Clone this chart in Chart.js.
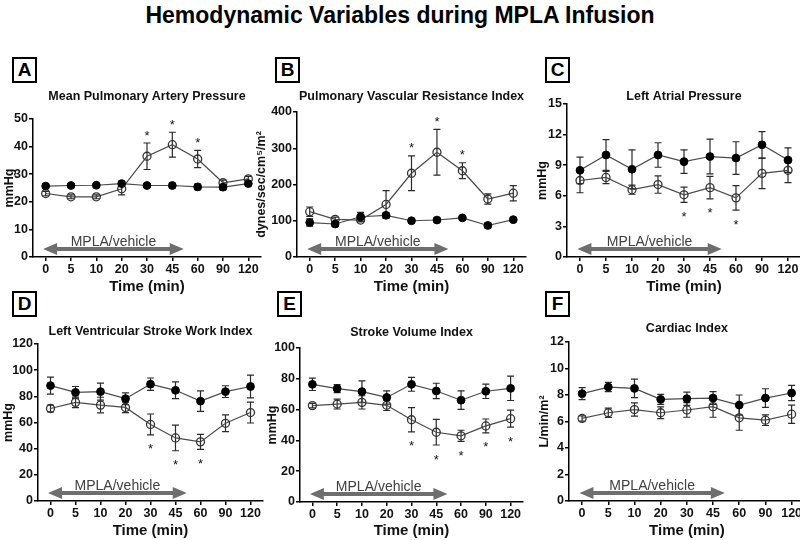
<!DOCTYPE html>
<html>
<head>
<meta charset="utf-8">
<script src="https://cdn.jsdelivr.net/npm/chart.js@4.4.1/dist/chart.umd.min.js"></script>
<style>
body { margin:0; width:800px; height:540px; overflow:hidden; background:#fff; position:relative; font-family:Arial, "Liberation Sans", sans-serif; }
#title { position:absolute; left:0; top:2px; width:800px; text-align:center; font-weight:bold; font-size:23px; color:#000; }
.letter { position:absolute; width:21px; height:22px; border:2px solid #000; font-weight:bold; font-size:19px; line-height:22px; text-align:center; color:#000; }
canvas { position:absolute; }
</style>
</head>
<body>
<div id="title">Hemodynamic Variables during MPLA Infusion</div>
<div class="letter" style="left:12px;top:57px">A</div>
<div class="letter" style="left:275px;top:57px">B</div>
<div class="letter" style="left:545px;top:57px">C</div>
<div class="letter" style="left:12px;top:291px">D</div>
<div class="letter" style="left:277px;top:291px">E</div>
<div class="letter" style="left:545px;top:291px">F</div>
<canvas id="pA" width="270" height="212" style="left:0px;top:84px"></canvas>
<canvas id="pB" width="290" height="212" style="left:252px;top:84px"></canvas>
<canvas id="pC" width="282" height="212" style="left:528px;top:84px"></canvas>
<canvas id="pD" width="270" height="222" style="left:0px;top:318px"></canvas>
<canvas id="pE" width="290" height="222" style="left:252px;top:318px"></canvas>
<canvas id="pF" width="282" height="222" style="left:528px;top:318px"></canvas>
<script>
// time points (min)
var timeLabels = ['0', '5', '10', '20', '30', '45', '60', '90', '120'];

// A - mean pulmonary artery pressure (mmHg)
var mpapVehicle = [25.7, 25.9, 26.0, 26.6, 25.9, 25.9, 25.4, 25.3, 26.6];
var mpapVehicleSem = [0.6, 0.6, 0.6, 0.8, 0.7, 0.8, 1.0, 1.0, 0.6];
var mpapMpla = [23.0, 21.8, 21.8, 24.7, 36.5, 40.7, 35.5, 26.9, 28.3];
var mpapMplaSem = [0.8, 0.7, 0.7, 2.2, 4.8, 4.5, 3.1, 0.9, 0.9];
var mpapSig = [0, 0, 0, 0, 1, 1, 1, 0, 0];
var mpapTicks = [0, 10, 20, 30, 40, 50];

// B - pulmonary vascular resistance index
var pvriVehicle = [95, 91, 111, 115, 100, 102, 108, 87, 103];
var pvriVehicleSem = [10, 7, 12, 7, 6, 6, 6, 7, 4];
var pvriMpla = [125, 104, 102, 145, 231, 289, 238, 160, 176];
var pvriMplaSem = [13, 6, 5, 38, 48, 63, 22, 14, 21];
var pvriSig = [0, 0, 0, 0, 1, 1, 1, 0, 0];
var pvriTicks = [0, 100, 200, 300, 400];

// C - left atrial pressure (mmHg)
var lapVehicle = [8.5, 10.0, 8.6, 10.0, 9.35, 9.85, 9.7, 11.0, 9.5];
var lapVehicleSem = [1.3, 1.5, 1.9, 1.2, 1.15, 1.7, 1.6, 1.3, 1.2];
var lapMpla = [7.5, 7.8, 6.6, 7.1, 6.1, 6.8, 5.8, 8.2, 8.5];
var lapMplaSem = [1.2, 0.6, 0.45, 0.85, 0.75, 1.1, 1.2, 1.5, 1.2];
var lapSig = [0, 0, 0, 0, 1, 1, 1, 0, 0];
var lapTicks = [0, 3, 6, 9, 12, 15];

// D - left ventricular stroke work index
var lvswiVehicle = [88.2, 83.0, 83.6, 78.2, 89.3, 84.6, 76.3, 83.6, 87.5];
var lvswiVehicleSem = [6.5, 4.5, 6.5, 4.5, 4.7, 6.4, 7.8, 4.5, 8.7];
var lvswiMpla = [70.7, 75.4, 73.3, 71.5, 58.5, 48.2, 45.2, 59.4, 67.6];
var lvswiMplaSem = [2.6, 4.0, 6.0, 4.0, 8.0, 9.8, 5.8, 6.4, 8.0];
var lvswiSig = [0, 0, 0, 0, 1, 1, 1, 0, 0];
var lvswiTicks = [0, 20, 40, 60, 80, 100, 120];

// E - stroke volume index
var sviVehicle = [76.4, 73.6, 71.7, 67.9, 76.4, 72.1, 66.1, 71.9, 73.8];
var sviVehicleSem = [4.0, 2.6, 7.0, 4.3, 4.5, 5.0, 6.0, 4.7, 7.9];
var sviMpla = [62.6, 63.6, 64.7, 62.8, 53.4, 45.3, 43.0, 49.4, 54.1];
var sviMplaSem = [1.5, 3.2, 4.3, 3.4, 7.9, 8.3, 3.6, 4.5, 5.5];
var sviSig = [0, 0, 0, 0, 1, 1, 1, 1, 1];
var sviTicks = [0, 20, 40, 60, 80, 100];

// F - cardiac index
var ciVehicle = [8.1, 8.6, 8.5, 7.67, 7.72, 7.77, 7.24, 7.77, 8.15];
var ciVehicleSem = [0.45, 0.35, 0.7, 0.38, 0.5, 0.48, 0.76, 0.7, 0.58];
var ciMpla = [6.23, 6.66, 6.9, 6.66, 6.87, 7.12, 6.28, 6.1, 6.55];
var ciMplaSem = [0.2, 0.35, 0.5, 0.45, 0.55, 0.8, 0.94, 0.4, 0.69];
var ciSig = [0, 0, 0, 0, 0, 0, 0, 0, 0];
var ciTicks = [0, 2, 4, 6, 8, 10, 12];

var FONT = 'Arial, "Liberation Sans", sans-serif';
Chart.defaults.font.family = FONT;

// error bars, infusion arrow, panel title and asterisks
var decor = {
    id: 'decor',
    beforeDatasetsDraw: function(chart, args, o) {
        var ctx = chart.ctx, x = chart.scales.x, y = chart.scales.y;
        // MPLA/vehicle arrow
        var xl = x.getPixelForValue(-0.1), xr = x.getPixelForValue(5.45), ay = y.bottom - 8;
        ctx.save();
        ctx.fillStyle = '#6e6e6e';
        ctx.beginPath();
        ctx.moveTo(xl, ay);
        ctx.lineTo(xl + 14, ay - 6); ctx.lineTo(xl + 14, ay - 2);
        ctx.lineTo(xr - 14, ay - 2); ctx.lineTo(xr - 14, ay - 6);
        ctx.lineTo(xr, ay);
        ctx.lineTo(xr - 14, ay + 6); ctx.lineTo(xr - 14, ay + 2);
        ctx.lineTo(xl + 14, ay + 2); ctx.lineTo(xl + 14, ay + 6);
        ctx.closePath();
        ctx.fill();
        ctx.fillStyle = '#404040';
        ctx.font = '14px ' + FONT;
        ctx.textAlign = 'center';
        ctx.textBaseline = 'alphabetic';
        ctx.fillText('MPLA/vehicle', (xl + xr) / 2, ay - 3);
        ctx.restore();

        chart.data.datasets.forEach(function(ds) {
            if (!ds.sem) return;
            ctx.save();
            ctx.strokeStyle = '#2a2a2a';
            ctx.lineWidth = 1.2;
            ds.data.forEach(function(v, i) {
                var px = x.getPixelForValue(i);
                var top = y.getPixelForValue(v + ds.sem[i]);
                var bot = y.getPixelForValue(v - ds.sem[i]);
                ctx.beginPath();
                ctx.moveTo(px, top); ctx.lineTo(px, bot);
                ctx.moveTo(px - 3.5, top); ctx.lineTo(px + 3.5, top);
                ctx.moveTo(px - 3.5, bot); ctx.lineTo(px + 3.5, bot);
                ctx.stroke();
            });
            ctx.restore();
        });
    },
    afterDraw: function(chart, args, o) {
        var ctx = chart.ctx, x = chart.scales.x, y = chart.scales.y;
        ctx.save();
        ctx.fillStyle = '#111';
        ctx.font = 'bold 12.5px ' + FONT;
        ctx.textAlign = 'center';
        ctx.textBaseline = 'middle';
        ctx.fillText(o.title, (chart.chartArea.left + chart.chartArea.right) / 2, o.titleY);

        var ds = chart.data.datasets[1];
        ctx.font = '13px ' + FONT;
        ctx.textBaseline = 'alphabetic';
        o.sig.forEach(function(s, i) {
            if (!s) return;
            var px = x.getPixelForValue(i), py;
            if (o.starDir > 0) py = y.getPixelForValue(ds.data[i] + ds.sem[i]) - 11;
            else py = y.getPixelForValue(ds.data[i] - ds.sem[i]) + 11;
            ctx.fillText('*', px, py + 7.5);
        });
        ctx.restore();
    }
};

function makePanel(id, p) {
    var canvas = document.getElementById(id);
    var cl = parseFloat(canvas.style.left), ct = parseFloat(canvas.style.top);
    var cr = cl + canvas.width, cb = ct + canvas.height;
    var tickFont = { size: 12.5, weight: 'bold' };
    new Chart(canvas, {
        type: 'line',
        data: {
            labels: timeLabels,
            datasets: [{
                label: 'Vehicle',
                data: p.vehicle,
                sem: p.vehicleSem,
                borderColor: '#4a4a4a',
                borderWidth: 1.2,
                pointRadius: 3.9,
                pointBackgroundColor: '#000',
                pointBorderColor: '#000',
                pointBorderWidth: 1,
                tension: 0
            }, {
                label: 'MPLA',
                data: p.mpla,
                sem: p.mplaSem,
                borderColor: '#4a4a4a',
                borderWidth: 1.2,
                pointRadius: 4,
                pointBackgroundColor: 'rgba(255,255,255,0)',
                pointBorderColor: '#333',
                pointBorderWidth: 1.3,
                tension: 0
            }]
        },
        options: {
            responsive: false,
            animation: false,
            events: [],
            layout: { padding: { left: 0, right: cr - p.area[1], top: p.area[2] - ct, bottom: 0 } },
            plugins: {
                legend: { display: false },
                tooltip: { enabled: false },
                decor: { title: p.title, titleY: p.titleY - ct, sig: p.sig, starDir: p.starDir }
            },
            scales: {
                x: {
                    type: 'category',
                    offset: true,
                    grid: { offset: false, drawOnChartArea: false, drawTicks: true, tickLength: 4, color: '#000', lineWidth: 1.5 },
                    border: { color: '#000', width: 1.5 },
                    ticks: { font: tickFont, color: '#111', padding: 1, maxRotation: 0, autoSkip: false },
                    title: { display: true, text: 'Time (min)', font: { size: 15, weight: 'bold' }, color: '#111', padding: { top: 0, bottom: 0 } },
                    afterFit: function(s) { s.height = cb - p.area[3]; }
                },
                y: {
                    min: p.ticks[0],
                    max: p.ticks[p.ticks.length - 1],
                    grid: { drawOnChartArea: false, drawTicks: true, tickLength: 4, color: '#000', lineWidth: 1.5 },
                    border: { color: '#000', width: 1.5 },
                    ticks: { stepSize: p.ticks[1] - p.ticks[0], font: tickFont, color: '#111', padding: 1 },
                    title: { display: true, text: p.yTitle, font: { size: 12.5, weight: 'bold' }, color: '#111', padding: { top: p.yTitlePad, bottom: 0 } },
                    afterFit: function(s) { s.width = p.area[0] - cl; }
                }
            }
        },
        plugins: [decor]
    });
}

makePanel('pA', { title: 'Mean Pulmonary Artery Pressure', titleY: 97, yTitle: 'mmHg', yTitlePad: 2,
    vehicle: mpapVehicle, vehicleSem: mpapVehicleSem, mpla: mpapMpla, mplaSem: mpapMplaSem,
    sig: mpapSig, starDir: 1, ticks: mpapTicks, area: [33, 261, 119, 257] });
makePanel('pB', { title: 'Pulmonary Vascular Resistance Index', titleY: 97, yTitle: 'dynes/sec/cm\u2075/m\u00b2', yTitlePad: 2,
    vehicle: pvriVehicle, vehicleSem: pvriVehicleSem, mpla: pvriMpla, mplaSem: pvriMplaSem,
    sig: pvriSig, starDir: 1, ticks: pvriTicks, area: [297, 526, 112, 257] });
makePanel('pC', { title: 'Left Atrial Pressure', titleY: 97, yTitle: 'mmHg', yTitlePad: 7,
    vehicle: lapVehicle, vehicleSem: lapVehicleSem, mpla: lapMpla, mplaSem: lapMplaSem,
    sig: lapSig, starDir: -1, ticks: lapTicks, area: [567, 801, 104, 257] });
makePanel('pD', { title: 'Left Ventricular Stroke Work Index', titleY: 332, yTitle: 'mmHg', yTitlePad: 1,
    vehicle: lvswiVehicle, vehicleSem: lvswiVehicleSem, mpla: lvswiMpla, mplaSem: lvswiMplaSem,
    sig: lvswiSig, starDir: -1, ticks: lvswiTicks, area: [38, 263, 344, 501] });
makePanel('pE', { title: 'Stroke Volume Index', titleY: 333, yTitle: 'mmHg', yTitlePad: 13,
    vehicle: sviVehicle, vehicleSem: sviVehicleSem, mpla: sviMpla, mplaSem: sviMplaSem,
    sig: sviSig, starDir: -1, ticks: sviTicks, area: [300, 523, 348, 502] });
makePanel('pF', { title: 'Cardiac Index', titleY: 329, yTitle: 'L/min/m\u00b2', yTitlePad: 9,
    vehicle: ciVehicle, vehicleSem: ciVehicleSem, mpla: ciMpla, mplaSem: ciMplaSem,
    sig: ciSig, starDir: -1, ticks: ciTicks, area: [569, 806, 342, 501] });
</script>
</body>
</html>
